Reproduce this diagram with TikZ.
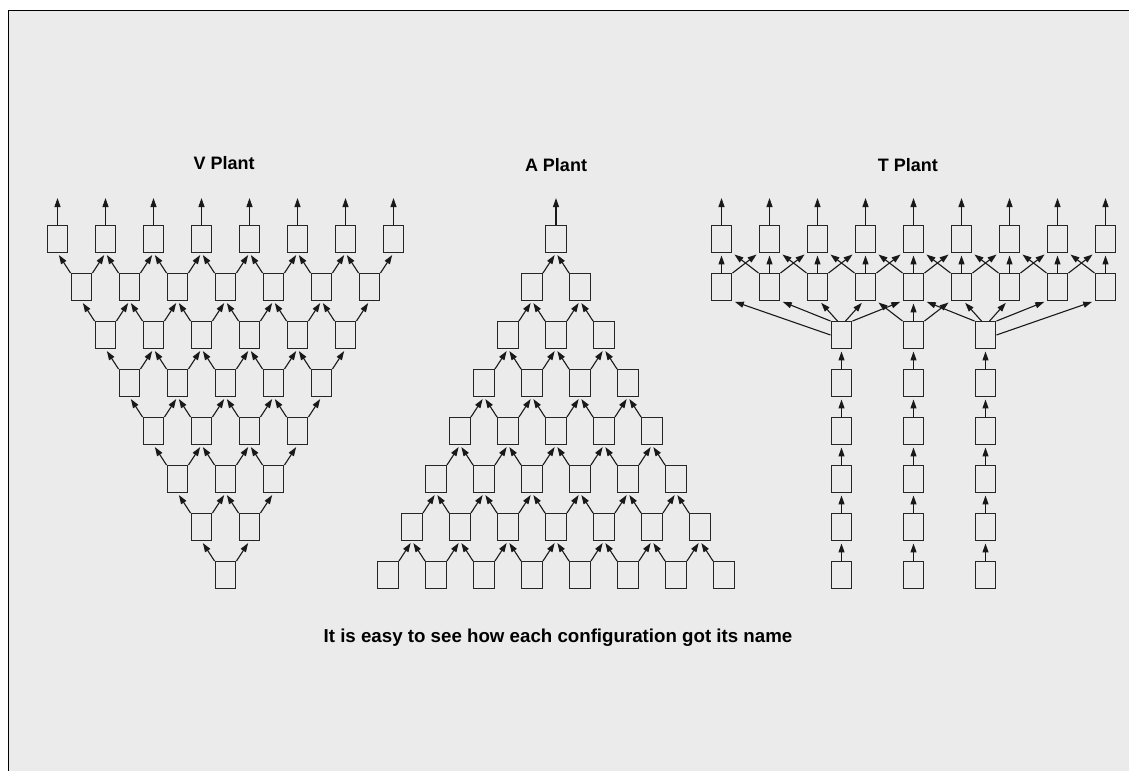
\documentclass[tikz,border=0pt]{standalone}
\usepackage{fontspec}
\setmainfont{Liberation Sans}
\usepackage{xcolor}
\usetikzlibrary{positioning, arrows.meta, calc}
\definecolor{panel}{RGB}{235,235,235}

\begin{document}
\begin{tikzpicture}[
  x=1pt, y=-1pt, >={Triangle[length=9pt,width=6pt]},
  unit/.style={draw=black!85, line width=1.4pt, minimum width=20.5pt, minimum height=26.5pt, inner sep=0pt},
  flow/.style={->, line width=1.1pt, black!90, shorten >=2.5pt},
  ttl/.style={font=\bfseries\fontsize{18}{20}\selectfont, anchor=base},
  note/.style={font=\bfseries\fontsize{18.7}{22}\selectfont}]
\useasboundingbox (0,0) rectangle (1129,771);
\fill[panel] (8,10) rectangle (1129,771);
\draw[line width=1pt] (8,771) -- (8,10) -- (1129,10);

\node[ttl] (vtitle) at (224.2,169)   {V Plant};
\node[ttl] (atitle) at (556,171.5)   {A Plant};
\node[ttl] (ttitle) at (907.8,171.5) {T Plant};
\node[note] (caption) at (558,638) {It is easy to see how each configuration got its name};

% V plant
\foreach \r in {1,...,8}{
  \pgfmathtruncatemacro\n{9-\r}
  \foreach \i in {1,...,\n}
    \node[unit] (v\r-\i) at ({57.5+(\r-1)*24+(\i-1)*48}, {239+(\r-1)*48}) {};
}
\foreach \i in {1,...,8}{
  \coordinate (vo\i) at ([yshift=27pt]v1-\i.north);
  \draw[flow, shorten >=0pt] (v1-\i) -- (vo\i);
}
\foreach \r in {2,...,8}{
  \pgfmathtruncatemacro\rowup{\r-1}
  \pgfmathtruncatemacro\n{9-\r}
  \foreach \i in {1,...,\n}{
    \pgfmathtruncatemacro\nx{\i+1}
    \draw[flow] (v\r-\i.north west) -- (v\rowup-\i.south);
    \draw[flow] (v\r-\i.north east) -- (v\rowup-\nx.south);
  }
}

% A plant
\foreach \r in {1,...,8}{
  \foreach \i in {1,...,\r}
    \node[unit] (a\r-\i) at ({556-(\r-1)*24+(\i-1)*48}, {239+(\r-1)*48}) {};
}
\coordinate (ao) at ([yshift=27pt]a1-1.north);
\draw[flow, shorten >=0pt] (a1-1) -- (ao);
\foreach \r in {2,...,8}{
  \pgfmathtruncatemacro\rowup{\r-1}
  \foreach \i in {1,...,\rowup}{
    \pgfmathtruncatemacro\nx{\i+1}
    \draw[flow] (a\r-\i.north east) -- (a\rowup-\i.south);
    \draw[flow] (a\r-\nx.north west) -- (a\rowup-\i.south);
  }
}

% T plant
\foreach \i in {1,...,9}{
  \node[unit] (t1-\i) at ({721.5+(\i-1)*48}, 239) {};
  \node[unit] (t2-\i) at ({721.5+(\i-1)*48}, 287) {};
  \coordinate (to\i) at ([yshift=27pt]t1-\i.north);
  \draw[flow, shorten >=0pt] (t1-\i) -- (to\i);
  \draw[flow] (t2-\i) -- (t1-\i);
}
\foreach \i in {1,...,8}{
  \pgfmathtruncatemacro\nx{\i+1}
  \draw[flow] (t2-\i.north east) -- (t1-\nx.south west);
  \draw[flow] (t2-\nx.north west) -- (t1-\i.south east);
}
\foreach \k/\x in {1/841.5, 2/913.5, 3/985.5}{
  \node[unit] (h\k) at (\x, 335) {};
  \foreach \j in {1,...,5}
    \node[unit] (c\k-\j) at (\x, {335+\j*48}) {};
  \draw[flow] (c\k-1) -- (h\k);
  \foreach \j in {2,...,5}{
    \pgfmathtruncatemacro\prev{\j-1}
    \draw[flow] (c\k-\j) -- (c\k-\prev);
  }
}
\draw[flow] (h1.west) -- (t2-1.south east);
\draw[flow] (h1.north west) -- (t2-2.south east);
\draw[flow] ([xshift=-4pt]h1.north) -- ([xshift=2pt]t2-3.south);
\draw[flow] ([xshift=4pt]h1.north) -- ([xshift=-2pt]t2-4.south);
\draw[flow] (h1.north east) -- (t2-5.south west);
\draw[flow] (h2.north west) -- (t2-4.south east);
\draw[flow] (h2) -- (t2-5);
\draw[flow] (h2.north east) -- (t2-6.south west);
\draw[flow] (h3.north west) -- (t2-5.south east);
\draw[flow] ([xshift=-4pt]h3.north) -- ([xshift=2pt]t2-6.south);
\draw[flow] ([xshift=4pt]h3.north) -- ([xshift=-2pt]t2-7.south);
\draw[flow] (h3.north east) -- (t2-8.south west);
\draw[flow] (h3.east) -- (t2-9.south west);
\end{tikzpicture}
\end{document}
